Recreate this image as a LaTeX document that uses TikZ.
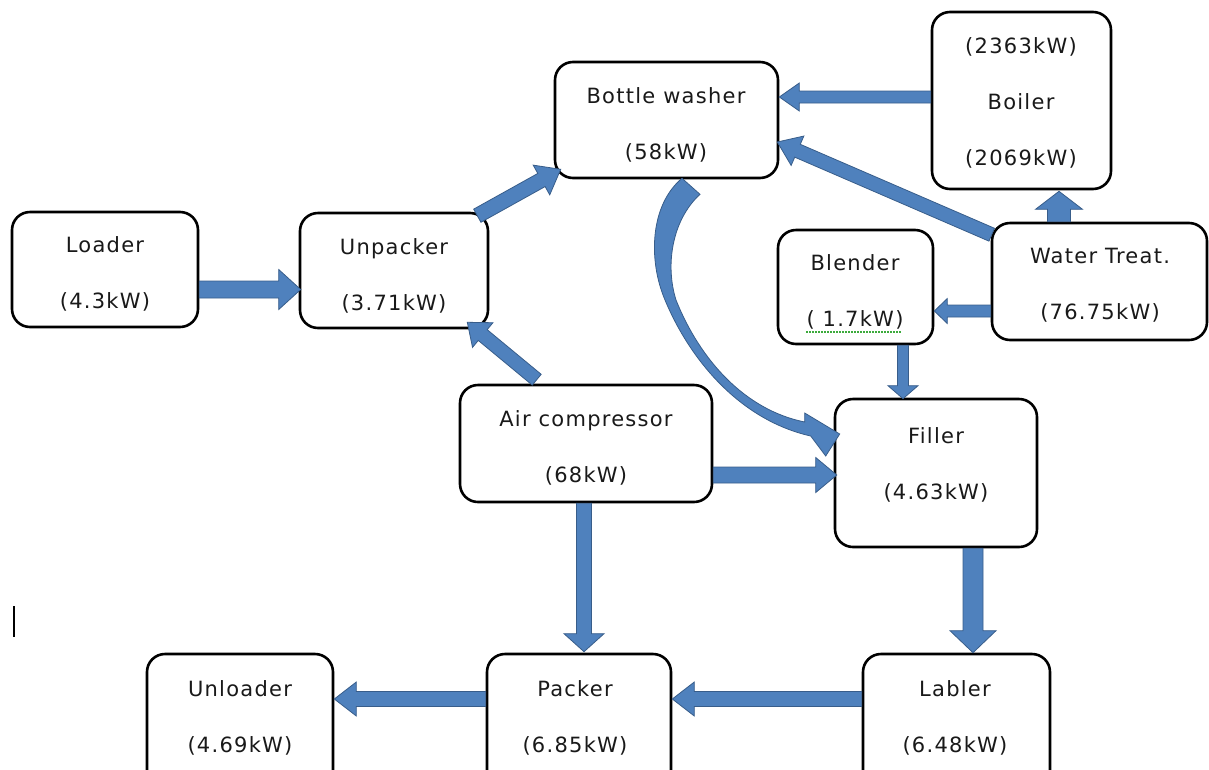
\documentclass[tikz,border=0pt]{standalone}
\usepackage{fontspec}
\usetikzlibrary{calc}
\newfontfamily\boxfont[LetterSpace=6]{DejaVu Sans}
\definecolor{flowfill}{RGB}{79,129,189}
\definecolor{flowline}{RGB}{56,93,138}
\definecolor{squiggle}{RGB}{60,170,60}

\tikzset{
  unitbox/.style={draw=black, line width=2.6pt, rounded corners=18pt, fill=white, inner sep=0pt},
  lbl/.style={align=center, inner sep=0pt, text=black!90, font=\boxfont\fontsize{21}{56}\selectfont},
  flow/.style={fill=flowfill, draw=flowline, line width=0.8pt, line join=miter},
}

% straight block arrow: start, end, half shaft width, half head width, head length
\newcommand\blockarrow[5]{%
  \path (#1) coordinate (ba-s) (#2) coordinate (ba-e);
  \path ($(ba-e)!#5!(ba-s)$) coordinate (ba-b);
  \draw[flow] ($(ba-s)!#3!90:(ba-e)$) -- ($(ba-b)!#3!90:(ba-e)$)
    -- ($(ba-b)!#4!90:(ba-e)$) -- (ba-e) -- ($(ba-b)!#4!-90:(ba-e)$)
    -- ($(ba-b)!#3!-90:(ba-e)$) -- ($(ba-s)!#3!-90:(ba-e)$) -- cycle;
}

\begin{document}
\begin{tikzpicture}[x=1pt,y=-1pt]
\useasboundingbox (0,0) rectangle (1209,769);
\clip (0,0) rectangle (1209,769);

% process units
\node[unitbox, minimum width=186pt, minimum height=115pt] (loader)   at (105,269.5) {};
\node[unitbox, minimum width=188pt, minimum height=115pt] (unpacker) at (394,270.5) {};
\node[unitbox, minimum width=223pt, minimum height=116pt] (washer)   at (666.5,120) {};
\node[unitbox, minimum width=179pt, minimum height=177pt] (boiler)   at (1021.5,100.5) {};
\node[unitbox, minimum width=215pt, minimum height=117pt] (water)    at (1099.5,281.5) {};
\node[unitbox, minimum width=155pt, minimum height=114pt] (blender)  at (855.5,287) {};
\node[unitbox, minimum width=252pt, minimum height=117pt] (air)      at (586,443.5) {};
\node[unitbox, minimum width=202pt, minimum height=148pt] (filler)   at (936,473) {};
\node[unitbox, minimum width=186pt, minimum height=136pt] (unloader) at (240,722) {};
\node[unitbox, minimum width=184pt, minimum height=136pt] (packer)   at (579,722) {};
\node[unitbox, minimum width=187pt, minimum height=136pt] (labler)   at (956.5,722) {};

% labels
\node[lbl] (loader-t)   at (105,273.5)  {Loader\\(4.3kW)};
\node[lbl] (unpacker-t) at (394,275.5)  {Unpacker\\(3.71kW)};
\node[lbl] (washer-t)   at (666,124.5)  {Bottle washer\\(58kW)};
\node[lbl] (boiler-t)   at (1021,102.5) {(2363kW)\\Boiler\\(2069kW)};
\node[lbl] (water-t)    at (1100,285)   {Water Treat.\\(76.75kW)};
\node[lbl] (blender-t)  at (855,291.5)  {Blender\\( 1.7kW)};
\node[lbl] (air-t)      at (586,447.5)  {Air compressor\\(68kW)};
\node[lbl] (filler-t)   at (936,464.5)  {Filler\\(4.63kW)};
\node[lbl] (unloader-t) at (240,717.5)  {Unloader\\(4.69kW)};
\node[lbl] (packer-t)   at (575,717.5)  {Packer\\(6.85kW)};
\node[lbl] (labler-t)   at (955,717.5)  {Labler\\(6.48kW)};

% grammar mark under the blender rating
\draw[squiggle, line width=1.3pt, dash pattern=on 1.5pt off 1.5pt]
  ($(blender-t.south west)+(0,3)$) -- ($(blender-t.south east)+(-2,3)$);

% flows
\blockarrow{$(loader.east)+(0,20)$}{$(unpacker.west)+(2,19)$}{8.5pt}{20pt}{22pt}
\blockarrow{$(unpacker.north east)+(-12,4)$}{$(washer.south west)+(7,-10)$}{7.5pt}{17pt}{22pt}
\blockarrow{$(air.north west)+(78,-4)$}{$(unpacker.south east)+(-22,-7)$}{7pt}{16pt}{20pt}
\blockarrow{$(air.east)+(0,31.5)$}{$(filler.west)+(3,2)$}{8pt}{17.5pt}{21pt}
\blockarrow{$(air.south)+(-2,0)$}{$(packer.north)+(5,-1)$}{7.5pt}{20pt}{18pt}
\blockarrow{$(boiler.west)+(0,-3.5)$}{$(washer.east)+(0,-23)$}{6pt}{14pt}{20pt}
\blockarrow{$(water.north west)+(1,13)$}{$(washer.east)+(-2,22)$}{7pt}{16pt}{22pt}
\blockarrow{$(water.north)+(-40.5,0)$}{$(boiler.south)+(37.5,1)$}{11.5pt}{23.5pt}{18pt}
\blockarrow{$(water.west)+(0,29.5)$}{$(blender.east)+(0,24)$}{6pt}{12.5pt}{13pt}
\blockarrow{$(blender.south)+(47.5,0)$}{$(filler.north)+(-33,1)$}{5.5pt}{15pt}{13pt}
\blockarrow{$(filler.south)+(37,0)$}{$(labler.north)+(16.5,0)$}{10pt}{23pt}{22pt}
\blockarrow{$(labler.west)+(0,-23)$}{$(packer.east)+(0,-23)$}{7.5pt}{17pt}{22pt}
\blockarrow{$(packer.west)+(0,-23)$}{$(unloader.east)+(0,-23)$}{7.5pt}{17pt}{22pt}

% tapering curved flow from the bottle washer down to the filler
\coordinate (cw1) at ($(washer.south)+(15.5,-1)$);
\coordinate (cw2) at ($(washer.south)+(33.5,15)$);
\coordinate (cf-in)  at ($(filler.west)+(-29,-51)$);
\coordinate (cf-up)  at ($(filler.west)+(-29,-60)$);
\coordinate (cf-tip) at ($(filler.west)+(6,-39)$);
\coordinate (cf-lo)  at ($(filler.west)+(-8,-17)$);
\coordinate (cf-out) at ($(filler.west)+(-23,-37)$);
\draw[flow] (cw1) .. controls (650,205) and (648,260) .. (665,300)
  .. controls (690,360) and (740,420) .. (cf-out)
  -- (cf-lo) -- (cf-tip) -- (cf-up) -- (cf-in)
  .. controls (745,410) and (700,360) .. (676,300)
  .. controls (665,265) and (672,220) .. (cw2) -- cycle;

% stray bar at the left margin
\draw[line width=2.6pt] (14,606) -- (14,637);
\end{tikzpicture}
\end{document}
